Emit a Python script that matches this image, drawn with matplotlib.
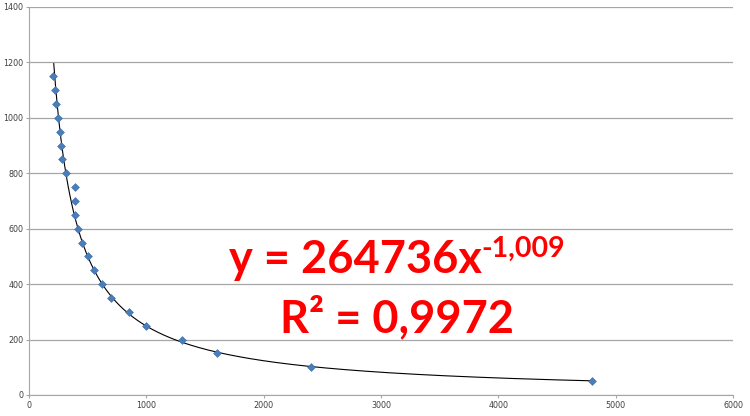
import numpy as np
import matplotlib.pyplot as plt

# valores
x_vals = [208, 218, 229, 245, 260, 272, 284, 312, 390, 392, 395, 420,
          450, 500, 555, 625, 700, 850, 1000, 1300, 1600, 2400, 4800]
y_vals = [1150, 1100, 1050, 1000, 950, 900, 850, 800, 750, 700, 650, 600,
          550, 500, 450, 400, 350, 300, 250, 200, 150, 100, 50]
coef_a = 264736
coef_b = -1.009
eq_text = "y = 264736x"
eq_exp = "-1,009"
r2_text = "R² = 0,9972"

grid_col = "#a6a6a6"
red = "#ff0000"

fig = plt.figure(figsize=(7.5, 4.16), dpi=100)
ax = fig.add_axes([29 / 750, 21 / 416, 704 / 750, 388 / 416])

# linea de tendencia potencial
xt = np.linspace(211, 4800, 600)
ax.plot(xt, coef_a * xt ** coef_b, color="black", lw=0.8, zorder=2)
ax.scatter(x_vals, y_vals, marker="D", s=16, color="#4a7ebb",
           edgecolor="#3a6aa8", linewidth=0.4, zorder=3)

ax.set_xlim(0, 6000)
ax.set_ylim(0, 1400)
ax.set_xticks(np.arange(0, 6001, 1000))
ax.set_yticks(np.arange(0, 1401, 200))
ax.yaxis.grid(True, color=grid_col, lw=0.9)
ax.set_axisbelow(True)
for s in ["top", "right"]:
    ax.spines[s].set_visible(False)
for s in ["left", "bottom"]:
    ax.spines[s].set_color(grid_col)
ax.tick_params(axis="both", labelsize=5.8, colors="#404040",
               length=2.5, width=0.8, color=grid_col, pad=1.5)

# texto de la ecuacion
fnt = dict(family="Lato", weight="bold", color=red)
t1 = fig.text(0, 0, eq_text, fontsize=32.5, ha="left", va="baseline", **fnt)
fig.canvas.draw()
r = fig.canvas.get_renderer()
w1 = t1.get_window_extent(r).width
t_exp = fig.text(0, 0, eq_exp, fontsize=20.5, ha="left", va="baseline", **fnt)
fig.canvas.draw()
w2 = t_exp.get_window_extent(r).width
cx = 397
x0 = cx - (w1 + w2) / 2
t1.set_position((x0 / 750, (416 - 273) / 416))
t_exp.set_position(((x0 + w1) / 750, (416 - 257) / 416))

fig.text(cx / 750, (416 - 332) / 416, r2_text, fontsize=32.5,
         ha="center", va="baseline", **fnt)

fig.savefig("out.png", dpi=100)
